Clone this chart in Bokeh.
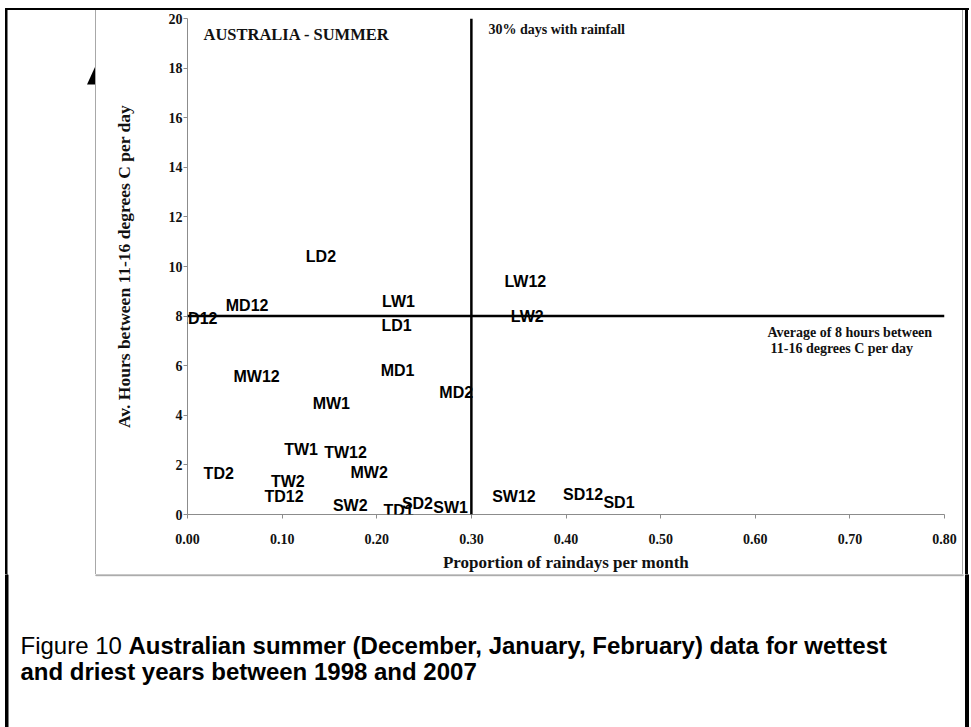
from bokeh.plotting import figure
from bokeh.layouts import column, row
from bokeh.models import (ColumnDataSource, LabelSet, Label, Span, Div,
                          FixedTicker, PrintfTickFormatter, Range1d)
from bokeh.core.properties import value
from bokeh.embed import file_html
from bokeh.resources import INLINE

# ---------------- data ----------------
station_labels = ["LD2", "LW12", "MD12", "LD12", "LW1", "LD1", "LW2", "MW12", "MD1", "MD2",
                  "MW1", "TW1", "TW12", "TD2", "MW2", "TW2", "TD12", "SW2", "TD1", "SD2",
                  "SW1", "SW12", "SD12", "SD1"]
rain_prop = [0.141, 0.357, 0.063, 0.011, 0.223, 0.221, 0.359, 0.073, 0.222, 0.284,
             0.152, 0.120, 0.167, 0.033, 0.192, 0.106, 0.102, 0.172, 0.223, 0.243,
             0.278, 0.345, 0.418, 0.456]
hours = [10.42, 9.39, 8.41, 7.89, 8.57, 7.61, 7.98, 5.56, 5.79, 4.93,
         4.47, 2.62, 2.49, 1.67, 1.68, 1.33, 0.72, 0.36, 0.16, 0.44,
         0.28, 0.74, 0.80, 0.47]
x_ticks = [0.0, 0.1, 0.2, 0.3, 0.4, 0.5, 0.6, 0.7, 0.8]
y_ticks = [0, 2, 4, 6, 8, 10, 12, 14, 16, 18, 20]
rain_threshold = 0.30
hours_threshold = 8

SERIF = "Liberation Serif"
SANS = "Liberation Sans"
AX_GREY = "#8c8c8c"
BOX_GREY = "#a8a8a8"

PAGE_W, PAGE_H = 971, 727
TOP_H = 10            # page y 0..10
MID_Y0, MID_Y1 = 10, 574
LEFT_W = 96           # page x 0..96
RIGHT_X0 = 962        # page x 962..971
MID_H = MID_Y1 - MID_Y0


def deco_fig(x0, x1, y0, y1):
    """A plain drawing surface whose data coordinates equal page pixels."""
    f = figure(width=x1 - x0, height=y1 - y0, output_backend="svg",
               toolbar_location=None, title=None,
               x_range=Range1d(x0, x1), y_range=Range1d(y1, y0),
               x_axis_type=None, y_axis_type=None,
               min_border=0, min_border_left=0, min_border_right=0,
               min_border_top=0, min_border_bottom=0)
    f.outline_line_color = None
    f.xgrid.visible = False
    f.ygrid.visible = False
    f.background_fill_color = "white"
    f.border_fill_color = "white"
    return f


# ---------------- top strip ----------------
top = deco_fig(0, PAGE_W, 0, TOP_H)
top.quad(left=[5], right=[968], top=[6], bottom=[8.5], color="black")
top.quad(left=[95.3], right=[962.7], top=[9], bottom=[10], color=BOX_GREY)
top.quad(left=[5], right=[7.5], top=[6], bottom=[TOP_H], color="black")
top.quad(left=[965], right=[968], top=[6], bottom=[TOP_H], color="black")

# ---------------- left / right strips (pure decoration) ----------------
left_bg = ("linear-gradient(to right, white 0px, white 5px, black 5px, black 7.5px, "
           f"white 7.5px, white 95px, {BOX_GREY} 95px, {BOX_GREY} 96px)")
left = Div(width=LEFT_W, height=MID_H,
           styles={"margin": "0", "padding": "0", "overflow": "hidden",
                   "background": left_bg},
           text=(f'<svg xmlns="http://www.w3.org/2000/svg" width="{LEFT_W}" height="{MID_H}" '
                 'style="display:block">'
                 '<rect x="5" y="0" width="2.5" height="564" fill="black"/>'
                 '<polygon points="87,74.5 95,74.5 95,57" fill="black"/>'
                 '</svg>'))
RW = PAGE_W - RIGHT_X0
right_bg = (f"linear-gradient(to right, {BOX_GREY} 0px, {BOX_GREY} 1.2px, white 1.2px, "
            "white 3px, black 3px, black 6px, white 6px, white 9px)")
right = Div(width=RW, height=MID_H, text="&nbsp;",
            styles={"margin": "0", "padding": "0", "overflow": "hidden",
                    "background": right_bg})

# ---------------- main chart ----------------
MW = RIGHT_X0 - LEFT_W                 # 866
MH = MID_H                             # 564
FL = 187 - LEFT_W                      # frame left inside main
FR = 944 - LEFT_W
FT = 18 - MID_Y0
FB = 515 - MID_Y0

p = figure(width=MW, height=MH, output_backend="svg", toolbar_location=None, title=None,
           x_range=Range1d(0, 0.8), y_range=Range1d(0, 20),
           min_border_left=FL, min_border_right=MW - FR,
           min_border_top=FT, min_border_bottom=MH - FB)
p.background_fill_color = "white"
p.border_fill_color = "white"
p.outline_line_color = None
p.xgrid.visible = False
p.ygrid.visible = False

for ax in (p.xaxis[0], p.yaxis[0]):
    ax.axis_line_color = AX_GREY
    ax.major_tick_line_color = AX_GREY
    ax.major_tick_in = 0
    ax.major_tick_out = 4
    ax.minor_tick_line_color = None
    ax.major_label_text_font = SERIF
    ax.major_label_text_font_style = "bold"
    ax.major_label_text_font_size = "14px"
    ax.major_label_text_color = "#111111"
    ax.axis_label_text_font = SERIF
    ax.axis_label_text_font_style = "bold"
    ax.axis_label_text_color = "#111111"

p.xaxis.ticker = FixedTicker(ticks=x_ticks)
p.xaxis.formatter = PrintfTickFormatter(format="%.2f")
p.xaxis.major_label_standoff = 15
p.xaxis.axis_label = "Proportion of raindays per month"
p.xaxis.axis_label_text_font_size = "17px"
p.xaxis.axis_label_standoff = 6

p.yaxis.ticker = FixedTicker(ticks=y_ticks)
p.yaxis.formatter = PrintfTickFormatter(format="%d")
p.yaxis.major_label_standoff = 1
p.yaxis.axis_label = "Av. Hours between 11-16 degrees C per day"
p.yaxis.axis_label_text_font_size = "17.5px"
p.yaxis.axis_label_standoff = 32

# data labels (the original shows labels only, no markers)
src = ColumnDataSource(dict(x=rain_prop, y=hours, t=station_labels))
p.add_layout(LabelSet(x="x", y="y", text="t", source=src,
                      text_align="center", text_baseline="middle",
                      text_font=value(SANS), text_font_style="bold",
                      text_font_size="16px", text_color="black"))

# reference lines
p.add_layout(Span(location=rain_threshold, dimension="height",
                  line_color="black", line_width=2.5))
p.add_layout(Span(location=hours_threshold, dimension="width",
                  line_color="black", line_width=2.5))


def lab(text, px, py, size):
    # page pixel -> frame-relative screen units (frame left = 187, bottom = 515)
    p.add_layout(Label(x=px - 187, y=515 - py, x_units="screen", y_units="screen",
                       text=text, text_font=SERIF, text_font_style="bold",
                       text_font_size=size, text_color="#111111",
                       text_align="left", text_baseline="middle"))


lab("AUSTRALIA - SUMMER", 203, 35, "16.5px")
lab("30% days with rainfall", 488, 30, "14px")
lab("Average of 8 hours between", 767, 333, "14px")
lab("11-16 degrees C per day", 770, 349, "14px")

# ---------------- bottom (caption) ----------------
bot = deco_fig(0, PAGE_W, MID_Y1, PAGE_H)
bot.quad(left=[95.3], right=[962.7], top=[MID_Y1], bottom=[MID_Y1 + 1.2], color=BOX_GREY)
bot.quad(left=[5], right=[7.5], top=[MID_Y1], bottom=[PAGE_H], color="black")
bot.quad(left=[965], right=[968], top=[MID_Y1], bottom=[PAGE_H], color="black")


def cap(text, px, py, style):
    bot.add_layout(Label(x=px, y=py, text=text, text_font=SANS, text_font_style=style,
                         text_font_size="24px", text_color="black",
                         text_baseline="middle"))


cap("Figure 10", 20, 645, "normal")
cap("Australian summer (December, January, February) data for wettest", 128, 645, "bold")
cap("and driest years between 1998 and 2007", 20, 671, "bold")

layout = column(top, row(left, p, right), bot)
open("out.html", "w").write(file_html(layout, INLINE))
